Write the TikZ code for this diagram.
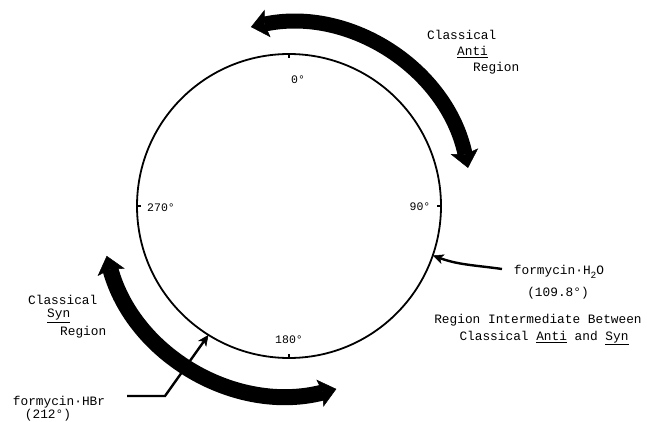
\documentclass[tikz,border=0pt]{standalone}
\usepackage{fontspec}
\setmonofont{Liberation Mono}
\usetikzlibrary{arrows.meta}
\begin{document}
\begin{tikzpicture}[x=1pt,y=1pt,
  lbl/.style={font=\fontsize{12.8}{14}\selectfont\ttfamily, inner sep=0pt},
  deg/.style={font=\fontsize{11.5}{13}\selectfont\ttfamily, inner sep=0pt},
  bigarrow/.style={line width=15pt,
    {Stealth[length=17pt,width=28pt,inset=3pt,line width=0.5pt]}-{Stealth[length=17pt,width=28pt,inset=3pt,line width=0.5pt]}},
  thinarrow/.style={line width=2.4pt,-{Stealth[length=11pt,width=10pt,inset=3pt,line width=0.5pt]}},
  tick/.style={line width=1.4pt}
]
\useasboundingbox (0,0) rectangle (647,-422);

% main circle
\node[circle, draw, line width=1.8pt, minimum size=304pt, inner sep=0pt, outer sep=0pt] (C) at (289,-206) {};
\draw[tick] (C.90) -- ++(0,-4);
\draw[tick] (C.0) -- ++(-4,0);
\draw[tick] (C.270) -- ++(0,4);
\draw[tick] (C.180) -- ++(4,0);

\node[deg] (d0) at (298,-80) {0°};
\node[deg] (d90) at (420,-207) {90°};
\node[deg] (d180) at (289,-340) {180°};
\node[deg] (d270) at (161,-208) {270°};

% big double arrows
\draw[bigarrow] ([shift={(102:183)}]C.center) arc[start angle=102, end angle=12, radius=183];
\draw[line width=16pt, {Stealth[length=17pt,width=28pt,inset=3pt,line width=0.5pt]}-{Stealth[length=17pt,width=28pt,inset=3pt,line width=0.5pt]}] ([shift={(195.3:189)}]C.center) arc[start angle=195.3, end angle=284.5, radius=189];

% top-right label
\node[lbl, anchor=west] (cl1) at (427,-35) {Classical};
\node[lbl, anchor=west] (anti1) at (457,-52) {\underline{Anti}};
\node[lbl, anchor=west] (reg1) at (473,-68) {Region};

% left label
\node[lbl, anchor=west] (cl2) at (28,-300) {Classical};
\node[lbl, anchor=west] (syn2) at (47,-316) {\underline{Syn}};
\node[lbl, anchor=west] (reg2) at (60,-332) {Region};

% formycin H2O
\node[lbl] (h2o) at (559,-272) {formycin·H\raisebox{-0.55ex}{\fontsize{9.5}{10}\selectfont 2}O};
\node[lbl] (h2oang) at (558,-293) {(109.8°)};
\node[lbl] (inter1) at (538,-320) {Region Intermediate Between};
\node[lbl] (inter2) at (544,-338) {Classical \underline{Anti} and \underline{Syn}};
\coordinate (h2ostart) at (502,-269);
\draw[thinarrow] (h2ostart) to[out=172, in=-20] (C.-19.8);

% formycin HBr
\node[lbl] (hbr) at (59,-402) {formycin·HBr};
\node[lbl] (hbrang) at (48,-415) {(212°)};
\coordinate (hbrstart) at (127,-396);
\coordinate (hbrknee) at (165,-396);
\draw[thinarrow] (hbrstart) -- (hbrknee) -- (C.-122);
\end{tikzpicture}
\end{document}
